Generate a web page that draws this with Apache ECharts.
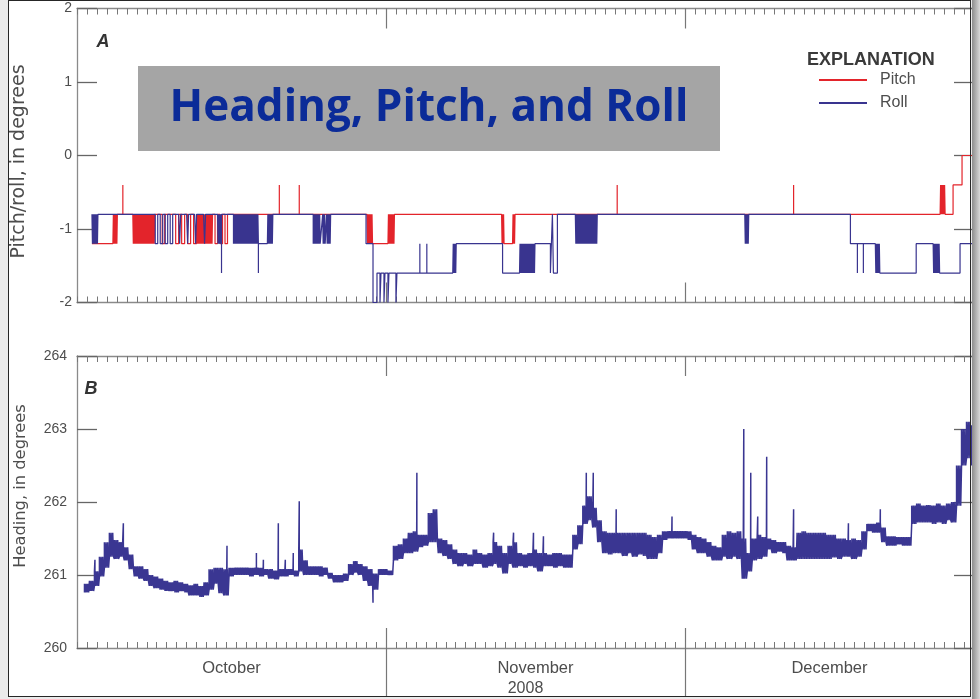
<!DOCTYPE html>
<html>
<head>
<meta charset="utf-8">
<title>Heading, Pitch, and Roll</title>
<script src="https://cdn.jsdelivr.net/npm/echarts@6/dist/echarts.min.js"></script>
<style>
  html, body { margin: 0; padding: 0; background: #ebebeb; overflow: hidden; }
  #page { position: relative; width: 980px; height: 699px; background: #ebebeb; }
  #sheet { position: absolute; left: 9px; top: 1px; width: 962px; height: 696px; background: #ffffff; }
  #chart { position: absolute; left: 0; top: 0; width: 980px; height: 699px; }
  #frame { position: absolute; left: 8px; top: 0; width: 961px; height: 695px; border: 1.5px solid #262626; pointer-events: none; }
  #shade { position: absolute; left: 972px; top: 0; width: 8px; height: 699px; background: linear-gradient(to right, #8c8c8c, #d8d8d8); }
</style>
</head>
<body>
<div id="page">
  <div id="sheet"></div>
  <div id="chart"></div>
  <div id="frame"></div>
  <div id="shade"></div>
</div>
<script>
// ---- time axis: days since 1 October 2008 ----
const dayMin = 0;
const dayMax = 90;
const monthTickDays = [31, 61];
const monthLabelDays = [15.5, 46, 75.5];
const monthNames = ['October', 'November', 'December'];
const yearLabelDay = 45;
const yearLabel = '2008';

// ---- panel A: pitch and roll (degrees), step records ----
// each run: [startDay, endDay, level] or [startDay, endDay, level, altLevel, flickerStep]
const pitchRuns = [
  [1.5, 3.6, -1.2],
  [3.6, 4.1, -1.2, -0.8, 0.05],
  [4.1, 5.6, -0.8],
  [5.6, 7.8, -0.8, -1.2, 0.05],
  [7.8, 8.3, -0.8],
  [8.3, 9.0, -0.8, -1.2, 0.25],
  [9.0, 9.6, -0.8],
  [9.6, 12.0, -0.8, -1.2, 0.3],
  [12.0, 13.6, -0.8, -1.2, 0.05],
  [13.6, 15.4, -0.8, -1.2, 0.25],
  [15.4, 29.1, -0.8],
  [29.1, 29.7, -0.8, -1.2, 0.05],
  [29.7, 31.2, -1.2],
  [31.2, 31.9, -1.2, -0.8, 0.05],
  [31.9, 42.6, -0.8],
  [42.6, 42.9, -0.8, -1.2, 0.05],
  [42.9, 43.7, -1.2],
  [43.7, 44.0, -1.2, -0.8, 0.05],
  [44.0, 86.6, -0.8],
  [86.6, 87.1, -0.8, -0.4, 0.05],
  [87.1, 87.9, -0.8],
  [87.9, 88.8, -0.4],
  [88.8, 90.0, 0.0]
];
const pitchSpikes = [[4.6, -0.4], [20.3, -0.4], [22.3, -0.4], [54.2, -0.4], [71.9, -0.4]];

const rollRuns = [
  [1.5, 2.1, -0.8, -1.2, 0.05],
  [2.1, 7.6, -0.8],
  [7.6, 9.6, -0.8, -1.2, 0.25],
  [9.6, 10.2, -0.8],
  [10.2, 10.4, -0.8, -1.2, 0.1],
  [10.4, 11.0, -0.8],
  [11.0, 11.2, -0.8, -1.2, 0.1],
  [11.2, 11.8, -0.8],
  [11.8, 12.0, -0.8, -1.2, 0.1],
  [12.0, 12.7, -0.8],
  [12.7, 12.9, -0.8, -1.2, 0.1],
  [12.9, 14.1, -0.8],
  [14.1, 14.5, -0.8, -1.2, 0.05],
  [14.5, 15.7, -0.8],
  [15.7, 18.2, -1.2, -0.8, 0.05],
  [18.2, 19.1, -1.2],
  [19.1, 19.7, -1.2, -0.8, 0.05],
  [19.7, 23.7, -0.8],
  [23.7, 24.4, -1.2, -0.8, 0.05],
  [24.4, 24.6, -1.2],
  [24.6, 24.9, -1.2, -0.8, 0.05],
  [24.9, 25.0, -1.2],
  [25.0, 25.5, -1.2, -0.8, 0.05],
  [25.5, 29.0, -0.8],
  [29.0, 29.7, -1.2],
  [29.7, 30.1, -2.0],
  [30.1, 30.4, -1.6],
  [30.4, 30.5, -2.0],
  [30.5, 30.8, -1.6],
  [30.8, 30.9, -2.0],
  [30.9, 31.2, -1.6],
  [31.2, 31.3, -2.0],
  [31.3, 32.0, -1.6],
  [32.0, 32.1, -2.0],
  [32.1, 37.7, -1.6],
  [37.7, 38.1, -1.6, -1.2, 0.05],
  [38.1, 42.7, -1.2],
  [42.7, 44.4, -1.6],
  [44.4, 46.0, -1.6, -1.2, 0.05],
  [46.0, 47.5, -1.2],
  [47.5, 47.7, -1.6],
  [47.7, 47.8, -0.8],
  [47.8, 48.2, -1.6],
  [48.2, 50.0, -0.8],
  [50.0, 52.2, -0.8, -1.2, 0.05],
  [52.2, 67.0, -0.8],
  [67.0, 67.4, -0.8, -1.2, 0.05],
  [67.4, 77.6, -0.8],
  [77.6, 80.1, -1.2],
  [80.1, 80.6, -1.2, -1.6, 0.05],
  [80.6, 84.2, -1.6],
  [84.2, 85.9, -1.2],
  [85.9, 86.6, -1.2, -1.6, 0.05],
  [86.6, 88.6, -1.6],
  [88.6, 90.0, -1.2]
];
const rollSpikes = [[14.5, -1.6], [18.2, -1.6], [34.4, -1.2], [35.1, -1.2], [78.3, -1.6], [78.9, -1.6]];

// ---- panel B: heading (degrees), low/high per half-day bin starting at day 0.75 ----
const headingStart = 0.75;
const headingBin = 0.5;
const headingLow = [
  260.76, 260.78, 260.85, 260.98, 261.10, 261.25, 261.22, 261.25, 261.20, 261.08,
  260.98, 260.95, 260.92, 260.85, 260.82, 260.80, 260.78, 260.78, 260.76, 260.78,
  260.76, 260.72, 260.72, 260.70, 260.72, 260.80, 260.88, 260.75, 260.72, 260.98,
  261.00, 261.00, 261.00, 260.98, 261.00, 260.98, 261.00, 260.95, 260.94, 260.98,
  260.98, 261.00, 260.98, 261.05, 261.00, 261.00, 261.00, 260.98, 261.00, 260.95,
  260.90, 260.90, 260.92, 261.00, 261.03, 261.00, 260.92, 260.85, 260.80, 261.00,
  261.00, 261.00, 261.20, 261.22, 261.30, 261.30, 261.32, 261.38, 261.40, 261.45,
  261.45, 261.30, 261.26, 261.22, 261.15, 261.12, 261.15, 261.12, 261.15, 261.15,
  261.10, 261.12, 261.15, 261.10, 261.02, 261.15, 261.10, 261.12, 261.10, 261.12,
  261.10, 261.05, 261.12, 261.12, 261.10, 261.12, 261.10, 261.10, 261.35, 261.42,
  261.70, 261.75, 261.65, 261.45, 261.30, 261.28, 261.30, 261.30, 261.26, 261.30,
  261.25, 261.28, 261.26, 261.22, 261.22, 261.30, 261.48, 261.50, 261.50, 261.50,
  261.50, 261.48, 261.35, 261.30, 261.30, 261.25, 261.20, 261.20, 261.25, 261.22,
  261.25, 261.22, 260.95, 261.05, 261.20, 261.22, 261.25, 261.35, 261.30, 261.32,
  261.30, 261.20, 261.20, 261.22, 261.22, 261.22, 261.22, 261.22, 261.22, 261.22,
  261.24, 261.22, 261.25, 261.25, 261.22, 261.25, 261.35, 261.60, 261.58, 261.58,
  261.45, 261.40, 261.40, 261.42, 261.40, 261.40, 261.70, 261.72, 261.72, 261.72,
  261.70, 261.72, 261.70, 261.75, 261.72, 261.95, 262.50, 262.60, 262.50
];
const headingHigh = [
  260.88, 260.92, 261.05, 261.25, 261.45, 261.58, 261.48, 261.45, 261.38, 261.28,
  261.12, 261.12, 261.08, 261.00, 260.98, 260.95, 260.92, 260.90, 260.92, 260.90,
  260.88, 260.86, 260.88, 260.85, 260.90, 261.08, 261.10, 261.10, 261.08, 261.10,
  261.10, 261.10, 261.10, 261.10, 261.10, 261.10, 261.08, 261.08, 261.06, 261.08,
  261.08, 261.08, 261.06, 261.35, 261.20, 261.12, 261.12, 261.12, 261.10, 261.03,
  261.00, 261.00, 261.02, 261.15, 261.19, 261.15, 261.12, 261.08, 261.02, 261.08,
  261.08, 261.06, 261.40, 261.42, 261.50, 261.58, 261.60, 261.55, 261.55, 261.85,
  261.90, 261.50, 261.48, 261.42, 261.35, 261.30, 261.30, 261.28, 261.35, 261.30,
  261.28, 261.30, 261.45, 261.40, 261.30, 261.40, 261.45, 261.30, 261.28, 261.30,
  261.35, 261.30, 261.30, 261.28, 261.30, 261.30, 261.28, 261.28, 261.55, 261.68,
  261.95, 262.08, 261.92, 261.75, 261.60, 261.58, 261.58, 261.58, 261.58, 261.58,
  261.58, 261.58, 261.58, 261.55, 261.52, 261.55, 261.60, 261.60, 261.60, 261.60,
  261.60, 261.60, 261.55, 261.52, 261.50, 261.45, 261.40, 261.38, 261.55, 261.60,
  261.58, 261.60, 261.50, 261.30, 261.50, 261.55, 261.52, 261.50, 261.48, 261.45,
  261.45, 261.40, 261.38, 261.58, 261.60, 261.58, 261.58, 261.58, 261.58, 261.55,
  261.55, 261.50, 261.50, 261.48, 261.50, 261.48, 261.60, 261.70, 261.70, 261.72,
  261.65, 261.53, 261.53, 261.52, 261.52, 261.52, 261.95, 261.98, 261.95, 261.96,
  261.95, 261.98, 261.95, 261.98, 262.00, 262.50, 263.00, 263.10, 263.05
];
const headingSpikes = [
  [1.8, 261.21], [4.65, 261.71], [15.05, 261.40], [18.0, 261.30], [18.7, 261.21],
  [20.2, 261.71], [20.9, 261.21], [21.7, 261.30], [22.3, 262.01], [29.7, 260.62],
  [34.1, 262.40], [41.8, 261.58], [43.8, 261.58], [45.8, 261.58], [46.8, 261.53],
  [51.1, 262.40], [51.8, 262.40], [54.1, 261.90], [59.7, 261.80], [66.9, 263.00],
  [67.6, 262.40], [68.3, 261.80], [69.2, 262.62], [71.9, 261.90], [77.4, 261.71],
  [80.6, 261.90]
];

// ---- colours and fonts ----
const pitchColor = '#e3242b';
const rollColor = '#39348f';
const headingColor = '#3a3692';
const axisGray = '#8a8a8a';
const textGray = '#4d4d4d';
const plainFont = "'Liberation Sans', Arial, sans-serif";

// Turn step records into line vertices; a flicker run alternates its two levels.
function stepPoints(runs, spikes) {
  const pts = [];
  runs.forEach(function (r) {
    const t0 = r[0], t1 = r[1], a = r[2], b = r[3], s = r[4];
    let cur = a;
    pts.push([t0, a]);
    if (b !== undefined) {
      const n = Math.round((t1 - t0) / s);
      for (let i = 1; i < n; i++) {
        const t = +(t0 + i * s).toFixed(4);
        pts.push([t, cur]);
        cur = (cur === a) ? b : a;
        pts.push([t, cur]);
      }
    }
    pts.push([t1, cur]);
  });
  spikes.forEach(function (sp) {
    const ts = sp[0], v = sp[1];
    for (let i = 0; i < pts.length - 1; i++) {
      if (pts[i][0] <= ts && pts[i + 1][0] > ts && pts[i][1] === pts[i + 1][1]) {
        const base = pts[i][1];
        pts.splice(i + 1, 0, [ts, base], [ts, v], [ts, base]);
        break;
      }
    }
  });
  return pts;
}

// Heading: each half-day bin is filled by strokes running between its low and high.
const strokesPerBin = 6;
function headingPoints() {
  const pts = [];
  for (let i = 0; i < headingLow.length; i++) {
    const t = headingStart + i * headingBin;
    for (let k = 0; k < strokesPerBin; k++) {
      const tk = t + k * headingBin / strokesPerBin;
      const from = (k % 2 === 0) ? headingLow[i] : headingHigh[i];
      const to = (k % 2 === 0) ? headingHigh[i] : headingLow[i];
      pts.push([tk, from], [tk, to]);
    }
  }
  headingSpikes.forEach(function (sp) {
    const ts = sp[0], v = sp[1];
    for (let i = 0; i < pts.length - 1; i++) {
      if (pts[i][0] <= ts && pts[i + 1][0] > ts) {
        const base = pts[i][1];
        pts.splice(i + 1, 0, [ts, base], [ts, v], [ts, base]);
        break;
      }
    }
  });
  return pts;
}

function dayAxis(gridIndex, position, extra) {
  return Object.assign({
    type: 'value', gridIndex: gridIndex, position: position,
    min: dayMin, max: dayMax, interval: 1,
    axisLine: { show: true, onZero: false, lineStyle: { color: axisGray, width: 1.3 } },
    axisTick: { show: true, inside: true, length: 6, lineStyle: { color: '#777', width: 1 } },
    axisLabel: { show: false },
    splitLine: { show: false }
  }, extra || {});
}
function monthTickAxis(gridIndex, position, inside, length, extra) {
  return Object.assign({
    type: 'value', gridIndex: gridIndex, position: position,
    min: dayMin, max: dayMax,
    axisLine: { show: false, onZero: false },
    axisTick: { show: true, inside: inside, length: length, customValues: monthTickDays,
                lineStyle: { color: '#777', width: 1.2 } },
    axisLabel: { show: false },
    splitLine: { show: false }
  }, extra || {});
}
function valueAxis(gridIndex, position, min, max, labelMargin, name, nameStyle) {
  const ax = {
    type: 'value', gridIndex: gridIndex, position: position,
    min: min, max: max, interval: 1,
    axisLine: { show: true, onZero: false, lineStyle: { color: axisGray, width: 1.3 } },
    axisTick: { show: true, inside: true, length: 20, lineStyle: { color: '#666', width: 1.3 } },
    axisLabel: { show: labelMargin !== null, showMinLabel: true, showMaxLabel: true, margin: labelMargin || 7,
                 color: textGray, fontFamily: plainFont, fontSize: 14 },
    splitLine: { show: false }
  };
  if (name) {
    ax.name = name;
    ax.nameLocation = 'middle';
    ax.nameRotate = 90;
    ax.nameGap = 48;
    ax.nameTextStyle = Object.assign({ color: textGray, fontFamily: "'DejaVu Sans', sans-serif" }, nameStyle);
  }
  return ax;
}

const option = {
  backgroundColor: 'transparent',
  animation: false,
  grid: [
    { left: 77, right: 6, top: 8.5, height: 294, containLabel: false },
    { left: 77, right: 6, top: 356, height: 292, containLabel: false }
  ],
  xAxis: [
    dayAxis(0, 'bottom'),
    dayAxis(0, 'top'),
    monthTickAxis(0, 'bottom', true, 20),
    monthTickAxis(0, 'top', true, 20),
    dayAxis(1, 'bottom'),
    dayAxis(1, 'top'),
    monthTickAxis(1, 'bottom', true, 20),
    monthTickAxis(1, 'top', true, 20),
    monthTickAxis(1, 'bottom', false, 49, {
      axisLabel: {
        show: true, customValues: monthLabelDays, margin: 12,
        color: textGray, fontFamily: plainFont, fontSize: 16.5,
        formatter: function (v) {
          const i = monthLabelDays.indexOf(v);
          return i >= 0 ? monthNames[i] : '';
        }
      }
    }),
    {
      type: 'value', gridIndex: 1, position: 'bottom', min: dayMin, max: dayMax,
      axisLine: { show: false, onZero: false }, axisTick: { show: false }, splitLine: { show: false },
      axisLabel: { show: true, customValues: [yearLabelDay], margin: 33,
                   color: textGray, fontFamily: plainFont, fontSize: 16,
                   formatter: function () { return yearLabel; } }
    }
  ],
  yAxis: [
    valueAxis(0, 'left', -2, 2, 5, 'Pitch/roll, in degrees', { fontSize: 19, padding: [0, 12, 0, 0] }),
    valueAxis(0, 'right', -2, 2, null),
    valueAxis(1, 'left', 260, 264, 10, 'Heading, in degrees', { fontSize: 16.3, padding: [0, 0, 0, 32] }),
    valueAxis(1, 'right', 260, 264, null)
  ],
  legend: {
    data: ['Pitch', 'Roll'],
    orient: 'vertical', left: 814, top: 67,
    itemWidth: 48, itemHeight: 2, itemGap: 7, icon: 'rect',
    textStyle: { color: textGray, fontFamily: plainFont, fontSize: 16, lineHeight: 16, padding: [0, 0, 0, 8] }
  },
  graphic: [
    { type: 'rect', shape: { x: 138, y: 66, width: 582, height: 85 }, style: { fill: '#a5a5a5' }, z: 10 },
    { type: 'text', z: 11, style: { text: 'Heading, Pitch, and Roll', x: 429, y: 108,
      textAlign: 'center', textVerticalAlign: 'middle', align: 'center', verticalAlign: 'middle',
      font: "bold 44px 'Open Sans', 'Noto Sans', sans-serif", fill: '#0b2b98' } },
    { type: 'text', style: { text: 'EXPLANATION', x: 807, y: 60,
      textAlign: 'left', textVerticalAlign: 'middle', align: 'left', verticalAlign: 'middle',
      font: "bold 18px 'Liberation Sans', Arial, sans-serif", fill: '#3a3a3a' } },
    { type: 'text', style: { text: 'A', x: 103, y: 42,
      textAlign: 'center', textVerticalAlign: 'middle', align: 'center', verticalAlign: 'middle',
      font: "italic bold 18px 'Liberation Sans', Arial, sans-serif", fill: '#333' } },
    { type: 'text', style: { text: 'B', x: 91, y: 389,
      textAlign: 'center', textVerticalAlign: 'middle', align: 'center', verticalAlign: 'middle',
      font: "italic bold 18px 'Liberation Sans', Arial, sans-serif", fill: '#333' } }
  ],
  series: [
    {
      name: 'Pitch', type: 'line', xAxisIndex: 0, yAxisIndex: 0,
      data: stepPoints(pitchRuns, pitchSpikes),
      showSymbol: false, symbol: 'none', z: 3,
      lineStyle: { color: pitchColor, width: 1.2 }, itemStyle: { color: pitchColor }
    },
    {
      name: 'Roll', type: 'line', xAxisIndex: 0, yAxisIndex: 0,
      data: stepPoints(rollRuns, rollSpikes),
      showSymbol: false, symbol: 'none', z: 4,
      lineStyle: { color: rollColor, width: 1.2 }, itemStyle: { color: rollColor }
    },
    {
      name: 'Heading', type: 'line', xAxisIndex: 4, yAxisIndex: 2,
      data: headingPoints(),
      showSymbol: false, symbol: 'none', z: 3,
      lineStyle: { color: headingColor, width: 1.5 }, itemStyle: { color: headingColor }
    }
  ]
};

const chart = echarts.init(document.getElementById('chart'), null, { renderer: 'canvas', width: 980, height: 699 });
chart.setOption(option);
</script>
</body>
</html>
